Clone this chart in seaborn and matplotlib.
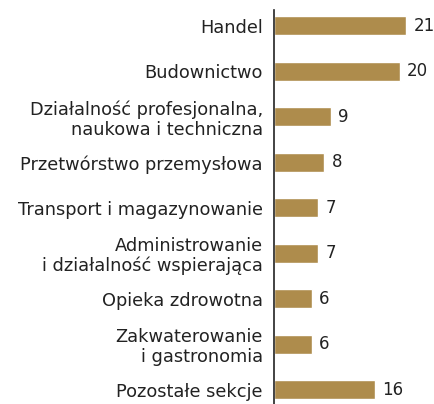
import pandas as pd
import matplotlib.pyplot as plt
import seaborn as sns

# Data
sectors = [
    "Handel",
    "Budownictwo",
    "Działalność profesjonalna,\nnaukowa i techniczna",
    "Przetwórstwo przemysłowa",
    "Transport i magazynowanie",
    "Administrowanie\ni działalność wspierająca",
    "Opieka zdrowotna",
    "Zakwaterowanie\ni gastronomia",
    "Pozostałe sekcje",
]
values = [21, 20, 9, 8, 7, 7, 6, 6, 16]

df = pd.DataFrame({"sector": sectors, "value": values})

sns.set_style("white")
plt.rcParams["font.family"] = ["DejaVu Sans"]

fig = plt.figure(figsize=(4.35, 4.04), dpi=100)
ax = fig.add_axes([274 / 435, 0, 1 - 274 / 435, 394 / 404])

sns.barplot(data=df, x="value", y="sector", color="#AE8C4C", saturation=1,
            width=0.42, ax=ax)

# value labels at bar ends
for i, v in enumerate(values):
    ax.text(v + 1.15, i, str(v), va="center", ha="left", fontsize=12, color="#222222")

ax.set_xlim(0, 25.6)
ax.set_ylim(8.31, -0.35)
ax.set_xlabel("")
ax.set_ylabel("")
ax.set_xticks([])
ax.tick_params(axis="y", length=0, pad=8, labelsize=12.8, labelcolor="#222222")
for lbl in ax.get_yticklabels():
    lbl.set_multialignment("right")
    lbl.set_linespacing(1.1)

sns.despine(ax=ax, top=True, right=True, bottom=True)
ax.spines["left"].set_color("#222222")
ax.spines["left"].set_linewidth(1.2)

plt.savefig("out.png", dpi=100)
